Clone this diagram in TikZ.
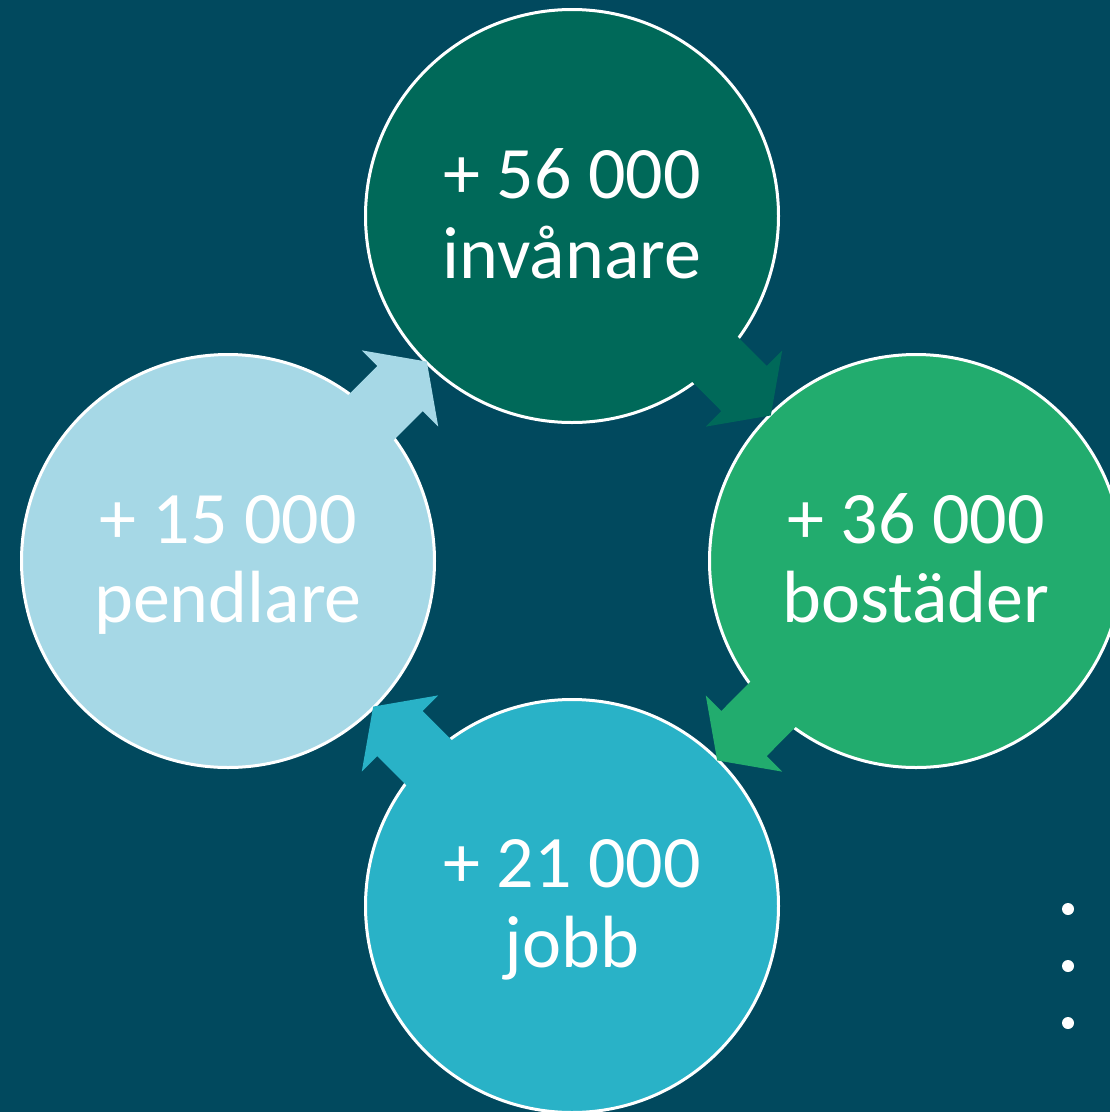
\documentclass[tikz,border=0pt]{standalone}
\usepackage{fontspec}
\setmainfont{Carlito}
\usetikzlibrary{calc}
\definecolor{bgc}{HTML}{01495E}
\definecolor{c1}{HTML}{006959}
\definecolor{c2}{HTML}{22AC6E}
\definecolor{c3}{HTML}{29B2C7}
\definecolor{c4}{HTML}{A6D8E6}
\newcommand\cycarrow[3]{%
  \coordinate (am) at ($(#1)!0.5!(#2)$);
  \coordinate (a0) at ($(#1)!163pt!(#2)$);
  \coordinate (atp) at ($(am)!38pt!(#2)$);
  \fill[#3] ($(a0)!32pt!90:(#2)$) -- ($(am)!32pt!90:(#2)$) -- ($(am)!54pt!90:(#2)$) -- (atp)
    -- ($(am)!54pt!-90:(#2)$) -- ($(am)!32pt!-90:(#2)$) -- ($(a0)!32pt!-90:(#2)$) -- cycle;}
\begin{document}
\begin{tikzpicture}[x=1pt,y=-1pt,
  bubble/.style={circle,draw=white,line width=3pt,minimum size=413pt,inner sep=0pt},
  lbl/.style={anchor=base,text=white,inner sep=0pt,font=\fontsize{74}{80}\selectfont},
  dotc/.style={circle,fill=white,minimum size=12pt,inner sep=0pt}]
\useasboundingbox (0,0) rectangle (1110,1112);
\clip (0,0) rectangle (1110,1112);
\fill[bgc] (0,0) rectangle (1110,1112);
\node[bubble,fill=c1] (top) at (572,216) {};
\node[bubble,fill=c2] (right) at (916,561) {};
\node[bubble,fill=c3] (bottom) at (572,906) {};
\node[bubble,fill=c4] (left) at (228,561) {};
\cycarrow{top}{right}{c1}
\cycarrow{right}{bottom}{c2}
\cycarrow{bottom}{left}{c3}
\cycarrow{left}{top}{c4}
\node[lbl] (t1) at (572,198) {+ 56 000};
\node[lbl] (t2) at (572,278) {invånare};
\node[lbl] (r1) at (916,543) {+ 36 000};
\node[lbl] (r2) at (916,622) {bostäder};
\node[lbl] (b1) at (572,887) {+ 21 000};
\node[lbl] (b2) at (572,967) {jobb};
\node[lbl] (l1) at (228,543) {+ 15 000};
\node[lbl] (l2) at (228,622) {pendlare};
\node[dotc] (d1) at (1068,909) {};
\node[dotc] (d2) at (1068,966) {};
\node[dotc] (d3) at (1068,1023) {};
\end{tikzpicture}
\end{document}
